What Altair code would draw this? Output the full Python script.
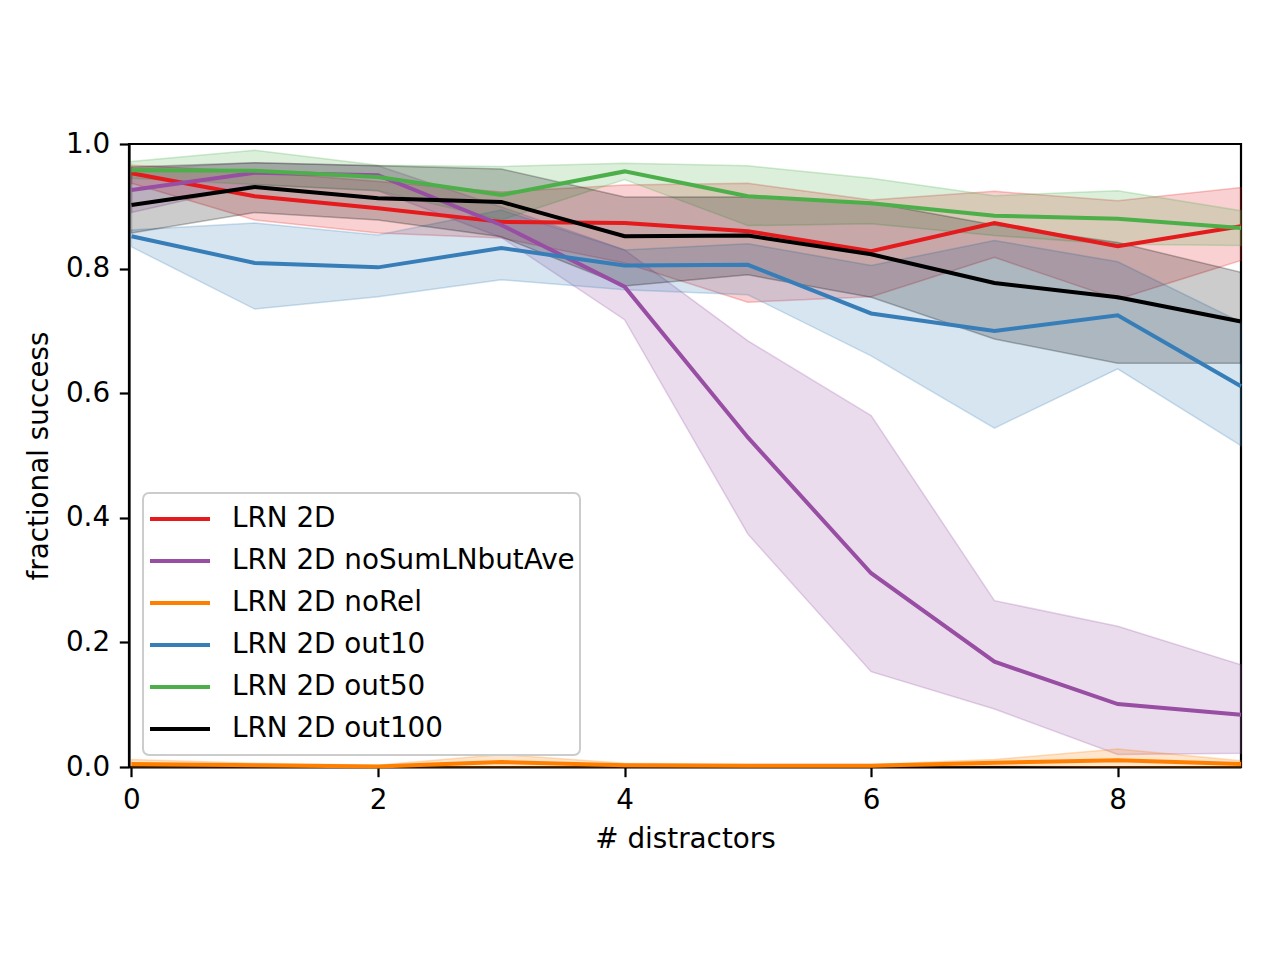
import altair as alt
import pandas as pd

x_vals = list(range(10))
series = ["LRN 2D", "LRN 2D noSumLNbutAve", "LRN 2D noRel", "LRN 2D out10", "LRN 2D out50", "LRN 2D out100"]
colors = ["#e41a1c", "#984ea3", "#ff7f00", "#377eb8", "#4daf4a", "#000000"]

# mean values
mean_lrn   = [0.953, 0.916, 0.897, 0.875, 0.873, 0.860, 0.828, 0.873, 0.836, 0.868]
mean_nosum = [0.926, 0.954, 0.950, 0.870, 0.771, 0.529, 0.311, 0.169, 0.101, 0.084]
mean_norel = [0.005, 0.003, 0.001, 0.008, 0.003, 0.002, 0.002, 0.007, 0.011, 0.005]
mean_out10 = [0.852, 0.809, 0.802, 0.833, 0.805, 0.806, 0.728, 0.700, 0.725, 0.611]
mean_out50 = [0.958, 0.957, 0.947, 0.918, 0.956, 0.916, 0.905, 0.885, 0.880, 0.865]
mean_out100 = [0.902, 0.931, 0.913, 0.907, 0.852, 0.853, 0.823, 0.777, 0.754, 0.715]

# band lower / upper
lo_lrn   = [0.937, 0.878, 0.857, 0.849, 0.809, 0.746, 0.755, 0.818, 0.751, 0.813]
hi_lrn   = [0.966, 0.956, 0.940, 0.923, 0.934, 0.937, 0.910, 0.924, 0.909, 0.930]
lo_nosum = [0.890, 0.935, 0.925, 0.850, 0.718, 0.374, 0.153, 0.093, 0.020, 0.022]
hi_nosum = [0.960, 0.970, 0.965, 0.899, 0.830, 0.684, 0.564, 0.267, 0.226, 0.164]
lo_norel = [0.000, 0.000, 0.000, 0.000, 0.000, 0.000, 0.000, 0.002, 0.000, 0.000]
hi_norel = [0.012, 0.006, 0.003, 0.020, 0.006, 0.004, 0.004, 0.012, 0.029, 0.010]
lo_out10 = [0.835, 0.735, 0.755, 0.782, 0.766, 0.758, 0.660, 0.544, 0.639, 0.516]
hi_out10 = [0.862, 0.873, 0.854, 0.894, 0.830, 0.840, 0.805, 0.845, 0.811, 0.714]
lo_out50 = [0.945, 0.935, 0.925, 0.878, 0.943, 0.869, 0.872, 0.853, 0.839, 0.837]
hi_out50 = [0.972, 0.990, 0.966, 0.964, 0.969, 0.965, 0.945, 0.917, 0.925, 0.893]
lo_out100 = [0.857, 0.890, 0.878, 0.851, 0.772, 0.790, 0.754, 0.687, 0.648, 0.648]
hi_out100 = [0.963, 0.970, 0.965, 0.960, 0.915, 0.915, 0.906, 0.870, 0.842, 0.794]

means = [mean_lrn, mean_nosum, mean_norel, mean_out10, mean_out50, mean_out100]
lows = [lo_lrn, lo_nosum, lo_norel, lo_out10, lo_out50, lo_out100]
highs = [hi_lrn, hi_nosum, hi_norel, hi_out10, hi_out50, hi_out100]

rows = []
for i, name in enumerate(series):
    for j, xv in enumerate(x_vals):
        rows.append({"series": name, "order": i, "x": xv,
                     "mean": means[i][j], "lo": lows[i][j], "hi": highs[i][j]})
df = pd.DataFrame(rows)

FONT = "DejaVu Sans"
color_scale = alt.Scale(domain=series, range=colors)

xenc = alt.X("x:Q", scale=alt.Scale(domain=[-0.02, 9], nice=False, zero=False),
             axis=alt.Axis(values=[0, 2, 4, 6, 8], format="d", title="# distractors",
                           titlePadding=11))
yscale = alt.Scale(domain=[0, 1], nice=False)

bands = alt.Chart(df).mark_area(fillOpacity=0.2, strokeOpacity=0.25, strokeWidth=1.5).encode(
    x=xenc,
    y=alt.Y("lo:Q", scale=yscale,
            axis=alt.Axis(values=[0, 0.2, 0.4, 0.6, 0.8, 1.0], format=".1f",
                          title="fractional success", titlePadding=12)),
    y2="hi:Q",
    color=alt.Color("series:N", scale=color_scale, legend=None),
    stroke=alt.Stroke("series:N", scale=color_scale, legend=None),
    order=alt.Order("order:Q"),
)

lines = alt.Chart(df).mark_line(strokeWidth=4).encode(
    x=xenc,
    y=alt.Y("mean:Q", scale=yscale),
    color=alt.Color("series:N", scale=color_scale, sort=series,
                    legend=alt.Legend(title=None, orient="none", legendX=14, legendY=349,
                                      symbolType="stroke", symbolSize=3600,
                                      symbolStrokeWidth=4, symbolOpacity=1,
                                      labelFontSize=27.8, labelFont=FONT, labelColor="black",
                                      labelOffset=20, fillColor="white",
                                      strokeColor="#cccccc", cornerRadius=6,
                                      padding=5, rowPadding=0, clipHeight=42,
                                      labelLimit=600)),
    detail="series:N",
)

chart = alt.layer(bands, lines).resolve_legend(color="independent", stroke="independent").properties(
    width=1112, height=623,
    padding={"left": 121, "top": 136, "right": 30, "bottom": 100},
    autosize=alt.AutoSizeParams(type="none"),
).configure_view(
    stroke="black", strokeWidth=2.2
).configure_axis(
    grid=False, domainColor="black", domainWidth=2.2, tickColor="black", tickWidth=2.2,
    tickSize=9.7, labelPadding=9.7, labelFontSize=27.8, labelFont=FONT, labelColor="black",
    titleFontSize=27.8, titleFont=FONT, titleFontWeight="normal", titleColor="black"
).configure_legend(
    strokeWidth=2
)

chart.save("out.html", embed_options={"renderer": "svg", "actions": False})
